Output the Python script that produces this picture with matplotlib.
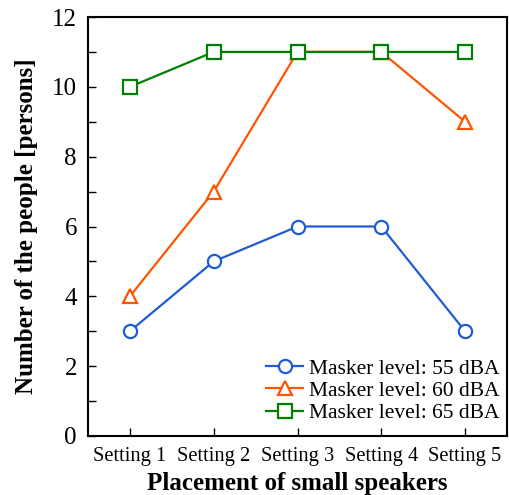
import matplotlib
matplotlib.use("Agg")
import matplotlib.pyplot as plt
from matplotlib.ticker import MultipleLocator

plt.rcParams['font.family'] = ['Liberation Serif', 'DejaVu Serif']
plt.rcParams['mathtext.fontset'] = 'stix'

settings = ["Setting 1", "Setting 2", "Setting 3", "Setting 4", "Setting 5"]
level55 = [3, 5, 6, 6, 3]
level60 = [4, 7, 11, 11, 9]
level65 = [10, 11, 11, 11, 11]

x = list(range(1, len(settings) + 1))

fig = plt.figure(figsize=(5.09, 4.95), dpi=100)
ax = fig.add_axes([88 / 509, 1 - 436 / 495, 419 / 509, 419 / 495])

ax.plot(x, level55, color='#1f5bd6', lw=1.6, marker='o', ms=9.5, mfc='white',
        mew=1.6, label='Masker level: 55 dBA')
ax.plot(x, level60, color='#ff5500', lw=1.6, marker='^', ms=10.5, mfc='white',
        mew=1.6, label='Masker level: 60 dBA')
ax.plot(x, level65, color='#008000', lw=1.6, marker='s', ms=9.5, mfc='white',
        mew=1.6, label='Masker level: 65 dBA')

ax.set_xlim(0.5, 5.5)
ax.set_ylim(0, 12)
ax.set_xticks(x)
ax.set_xticklabels(settings, fontsize=14.8)
ax.yaxis.set_major_locator(MultipleLocator(2))
ax.yaxis.set_minor_locator(MultipleLocator(1))
ax.tick_params(axis='y', labelsize=18, pad=8)
ax.tick_params(axis='x', pad=8)
ax.tick_params(direction='in', which='both', top=False, right=False)
ax.tick_params(which='major', length=6, width=1)
ax.tick_params(which='minor', length=6, width=1)
for s in ax.spines.values():
    s.set_linewidth(1.5)

ax.set_xlabel('Placement of small speakers', fontsize=18, fontweight='bold', labelpad=4)
ax.set_ylabel('Number of the people [persons]', fontsize=18, fontweight='bold', labelpad=10)

ax.legend(loc='lower right', bbox_to_anchor=(1.014, 0.0), frameon=False,
          fontsize=15.5, handlelength=1.7, handletextpad=0.3, labelspacing=0.1,
          borderaxespad=0.2)

fig.savefig('out.png', dpi=100)
